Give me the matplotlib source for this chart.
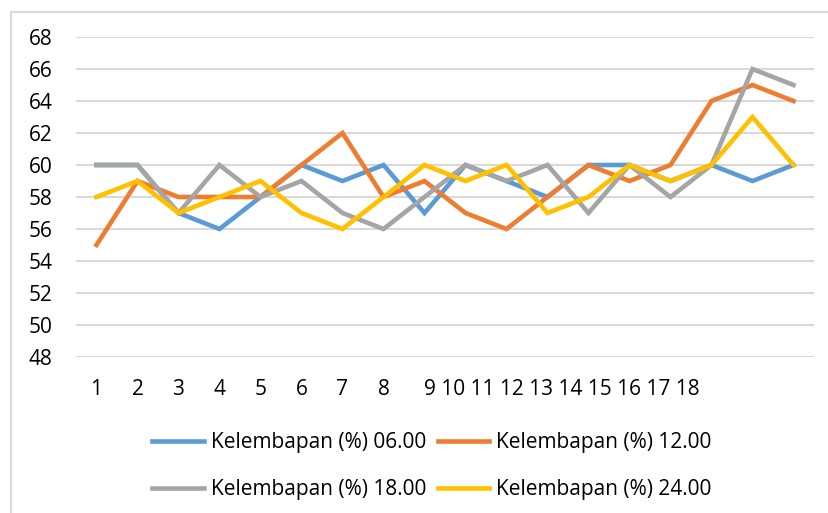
import matplotlib.pyplot as plt
from matplotlib.patches import Rectangle

plt.rcParams['font.family'] = ['Open Sans', 'DejaVu Sans']

# hari pengamatan 1..18
hari = list(range(1, 19))
kelembapan_06 = [60, 60, 57, 56, 58, 60, 59, 60, 57, 60, 59, 58, 60, 60, 59, 60, 59, 60]
kelembapan_12 = [55, 59, 58, 58, 58, 60, 62, 58, 59, 57, 56, 58, 60, 59, 60, 64, 65, 64]
kelembapan_18 = [60, 60, 57, 60, 58, 59, 57, 56, 58, 60, 59, 60, 57, 60, 58, 60, 66, 65]
kelembapan_24 = [58, 59, 57, 58, 59, 57, 56, 58, 60, 59, 60, 57, 58, 60, 59, 60, 63, 60]
label_x = ['1', '2', '3', '4', '5', '6', '7', '8',
           '9 10 11 12 13 14 15 16 17 18'] + [''] * 9
series_names = ['Kelembapan (%) 06.00', 'Kelembapan (%) 12.00',
                'Kelembapan (%) 18.00', 'Kelembapan (%) 24.00']
colors = ['#5B9BD5', '#ED7D31', '#A5A5A5', '#FFC000']

W, H = 829, 513
fig = plt.figure(figsize=(W / 100, H / 100), dpi=100)
ax = fig.add_axes([76 / W, 1 - 357 / H, (814 - 76) / W, (357 - 37) / H])

lines = []
for vals, name, c in zip([kelembapan_06, kelembapan_12, kelembapan_18, kelembapan_24],
                         series_names, colors):
    ln, = ax.plot(hari, vals, color=c, lw=3.3, label=name, solid_joinstyle='miter')
    lines.append(ln)

ax.set_xlim(0.5, 18.5)
ax.set_ylim(48, 68)
ax.set_yticks(range(48, 69, 2))
ax.set_xticks(hari)
ax.set_xticklabels(label_x)
lbl9 = ax.get_xticklabels()[8]
lbl9.set_horizontalalignment('left')
lbl9.set_x(8.9)

ax.grid(axis='y', color='#D9D9D9', lw=1.5)
ax.set_axisbelow(True)
for s in ax.spines.values():
    s.set_visible(False)
ax.tick_params(axis='both', length=0, labelsize=15, colors='#000000')
ax.tick_params(axis='y', pad=17)
ax.tick_params(axis='x', pad=16)

# bingkai chart
fig.patches.append(Rectangle((11 / W, -0.1), 1.2, 1.1 - 12 / H, transform=fig.transFigure,
                             fill=False, edgecolor='#D9D9D9', lw=1.5))

# urutan baris: 06, 12 / 18, 24
order = [0, 2, 1, 3]
fig.legend([lines[i] for i in order], [series_names[i] for i in order],
           loc='center', bbox_to_anchor=(0.521, 0.0916), ncol=2, frameon=False,
           fontsize=15, handlelength=2.45, handletextpad=0.35, columnspacing=0.55,
           labelspacing=1.25, borderpad=0, borderaxespad=0)

fig.savefig('out.png', dpi=100)
